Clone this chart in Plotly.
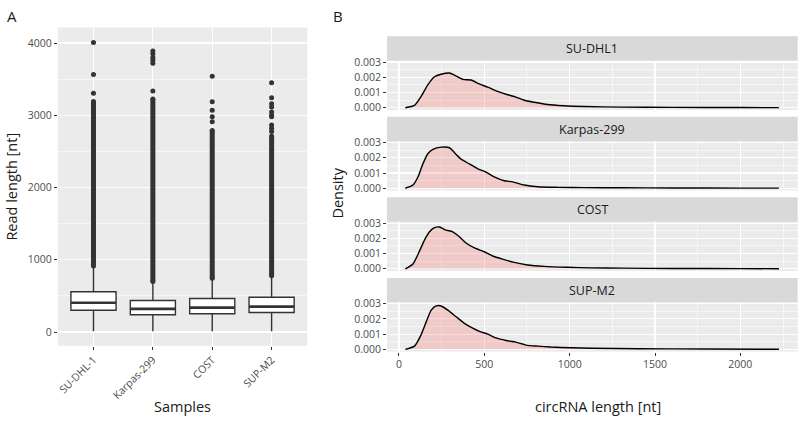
import plotly.graph_objects as go

# ---------------- Data ----------------
samples = ["SU-DHL-1", "Karpas-299", "COST", "SUP-M2"]
box_lower = [10, 10, 10, 10]
box_q1 = [301, 239, 252, 270]
box_median = [405, 320, 337, 351]
box_q3 = [557, 436, 463, 482]
box_upper = [908, 693, 738, 773]
# dense (overplotted) outlier columns: from whisker end up to this value
dense_outlier_top = [3190, 3225, 2790, 2710]
sparse_outliers = [
    [3306, 3563, 4008],
    [3337, 3720, 3760, 3800, 3850, 3890],
    [2911, 2978, 3068, 3188, 3540],
    [2776, 2820, 2865, 2978, 3000, 3046, 3113, 3158, 3244, 3450],
]

panel_names = ["SU-DHL1", "Karpas-299", "COST", "SUP-M2"]
dens_x = [
    [37, 91, 130, 169, 208, 247, 296, 325, 374, 422, 471, 520, 578, 637, 685, 734, 792, 870, 967, 1084, 1300, 1600, 2000, 2226],
    [37, 82, 111, 140, 169, 199, 247, 296, 325, 364, 412, 461, 510, 558, 617, 666, 734, 812, 929, 1084, 1300, 1600, 2000, 2226],
    [37, 82, 120, 150, 179, 208, 237, 276, 315, 354, 393, 442, 500, 549, 607, 675, 754, 850, 987, 1123, 1300, 1600, 2000, 2226],
    [37, 91, 130, 160, 189, 218, 247, 286, 335, 383, 432, 471, 520, 568, 627, 685, 744, 812, 890, 1006, 1123, 1400, 1800, 2226],
]
dens_y = [
    [0.0, 0.00015, 0.00075, 0.0015, 0.00203, 0.0022, 0.00228, 0.00214, 0.00186, 0.00182, 0.00156, 0.00135, 0.00107, 0.00085, 0.0007, 0.00049, 0.00036, 0.00021, 0.00013, 0.00008, 0.00004, 0.00002, 0.00001, 0.000005],
    [0.0, 0.00021, 0.00074, 0.0016, 0.00227, 0.00255, 0.0027, 0.00266, 0.00234, 0.00191, 0.0016, 0.00128, 0.00106, 0.00074, 0.00049, 0.00042, 0.00021, 0.0001, 0.00006, 0.00004, 0.00003, 0.00002, 0.00001, 0.000005],
    [0.0, 0.00032, 0.00116, 0.0019, 0.00243, 0.0027, 0.00275, 0.00254, 0.00243, 0.00211, 0.00169, 0.00137, 0.00112, 0.00084, 0.00063, 0.00042, 0.00025, 0.00016, 0.0001, 0.00006, 0.00004, 0.00002, 0.00001, 0.000005],
    [0.0, 0.00021, 0.00097, 0.00182, 0.00258, 0.00285, 0.00285, 0.00258, 0.00214, 0.00171, 0.00139, 0.00118, 0.001, 0.00075, 0.00058, 0.00047, 0.00028, 0.00021, 0.00015, 0.0001, 0.00007, 0.00004, 0.00002, 0.000005],
]

# ---------------- Layout helpers ----------------
W, H = 800, 422
FONT = "Open Sans"
TICK_C = "#4D4D4D"
DARK = "#333333"


def px(x):
    return x / W


def py(y):
    return 1 - y / H


fig = go.Figure()

# ---------------- Panel A ----------------
for i, s in enumerate(samples):
    fig.add_trace(go.Box(
        x=[i], q1=[box_q1[i]], median=[box_median[i]], q3=[box_q3[i]],
        lowerfence=[box_lower[i]], upperfence=[box_upper[i]],
        width=0.76, whiskerwidth=0, fillcolor="white",
        line=dict(color=DARK, width=1.4), boxpoints=False,
        xaxis="x", yaxis="y", hoverinfo="skip"))
    fig.add_trace(go.Scatter(
        x=[i - 0.38, i + 0.38], y=[box_median[i], box_median[i]], mode="lines",
        line=dict(color=DARK, width=2.7), xaxis="x", yaxis="y", hoverinfo="skip"))
    fig.add_trace(go.Scatter(
        x=[i, i], y=[box_upper[i] + 5, dense_outlier_top[i]], mode="lines+markers",
        line=dict(color=DARK, width=5), marker=dict(color=DARK, size=5),
        xaxis="x", yaxis="y", hoverinfo="skip"))
    fig.add_trace(go.Scatter(
        x=[i] * len(sparse_outliers[i]), y=sparse_outliers[i], mode="markers",
        marker=dict(color=DARK, size=5), xaxis="x", yaxis="y", hoverinfo="skip"))

grid = dict(showgrid=True, gridcolor="white", gridwidth=1.1, zeroline=False,
            ticks="outside", ticklen=3, tickwidth=1, tickcolor=DARK,
            tickfont=dict(family=FONT, size=10.5, color=TICK_C), showline=False)

layout = dict(
    width=W, height=H, margin=dict(l=0, r=0, t=0, b=0),
    paper_bgcolor="white", plot_bgcolor="#EBEBEB", showlegend=False,
    font=dict(family=FONT, color="#1A1A1A"),
)
layout["xaxis"] = dict(
    grid, domain=[px(56), px(306)], range=[-0.6, 3.6], anchor="y",
    tickvals=list(range(len(samples))), ticktext=samples, tickangle=-45)
layout["yaxis"] = dict(
    grid, domain=[py(348), py(22)], range=[-190, 4215], anchor="x",
    tickvals=[0, 1000, 2000, 3000, 4000],
    minor=dict(tickvals=[500, 1500, 2500, 3500], showgrid=True,
               gridcolor="white", gridwidth=0.55, ticks=""))

# ---------------- Panel B ----------------
shapes = []
annotations = []
bx0, bx1 = 386, 797.7
for k in range(4):
    top = 31 + k * 82.5
    strip_b = top + 25
    plot_b = top + 75.5
    xa = "x%d" % (k + 2)
    ya = "y%d" % (k + 2)
    fig.add_trace(go.Scatter(
        x=dens_x[k], y=dens_y[k], mode="lines", fill="tozeroy",
        fillcolor="rgba(248,118,109,0.27)",
        line=dict(color="black", width=1.4, shape="spline", smoothing=0.6),
        xaxis=xa, yaxis=ya, hoverinfo="skip"))
    bottom = (k == 3)
    layout["xaxis%d" % (k + 2)] = dict(
        grid, domain=[px(bx0), px(bx1)], range=[-70, 2336], anchor=ya,
        tickvals=[0, 500, 1000, 1500, 2000], showticklabels=bottom,
        ticks="outside" if bottom else "",
        minor=dict(tickvals=[250, 750, 1250, 1750, 2250], showgrid=True,
                   gridcolor="white", gridwidth=0.55, ticks=""))
    layout["yaxis%d" % (k + 2)] = dict(
        grid, domain=[py(plot_b), py(strip_b)], range=[-0.00015, 0.00309],
        anchor=xa, tickvals=[0, 0.001, 0.002, 0.003],
        ticktext=["0.000", "0.001", "0.002", "0.003"],
        minor=dict(tickvals=[0.0005, 0.0015, 0.0025], showgrid=True,
                   gridcolor="white", gridwidth=0.55, ticks=""))
    shapes.append(dict(type="rect", xref="paper", yref="paper",
                       x0=px(bx0), x1=px(bx1), y0=py(strip_b), y1=py(top),
                       fillcolor="#D9D9D9", line=dict(width=0), layer="below"))
    annotations.append(dict(xref="paper", yref="paper", x=px((bx0 + bx1) / 2),
                            y=py((top + strip_b) / 2), text=panel_names[k],
                            showarrow=False, xanchor="center", yanchor="middle",
                            font=dict(family=FONT, size=12.5, color="#1A1A1A")))

title_font = dict(family=FONT, size=14.5, color="#1A1A1A")
annotations += [
    dict(x=px(10), y=py(10), text="A", font=dict(family=FONT, size=15, color="#1A1A1A")),
    dict(x=px(337), y=py(10), text="B", font=dict(family=FONT, size=15, color="#1A1A1A")),
    dict(x=px(10), y=py(185), text="Read length [nt]", textangle=-90, font=title_font),
    dict(x=px(336), y=py(192), text="Density", textangle=-90, font=title_font),
    dict(x=px(181), y=py(410), text="Samples", font=title_font),
    dict(x=px(597), y=py(410), text="circRNA length [nt]", font=title_font),
]
for a in annotations[-6:]:
    a.update(xref="paper", yref="paper", showarrow=False,
             xanchor="center", yanchor="middle")

layout["shapes"] = shapes
layout["annotations"] = annotations
fig.update_layout(**layout)

fig.write_html(
    "out.html",
    config={"displayModeBar": False, "staticPlot": True},
    post_script=("document.documentElement.style.margin='0';"
                 "document.body.style.margin='0';document.body.style.padding='0';"
                 "document.body.style.overflow='hidden';"))
